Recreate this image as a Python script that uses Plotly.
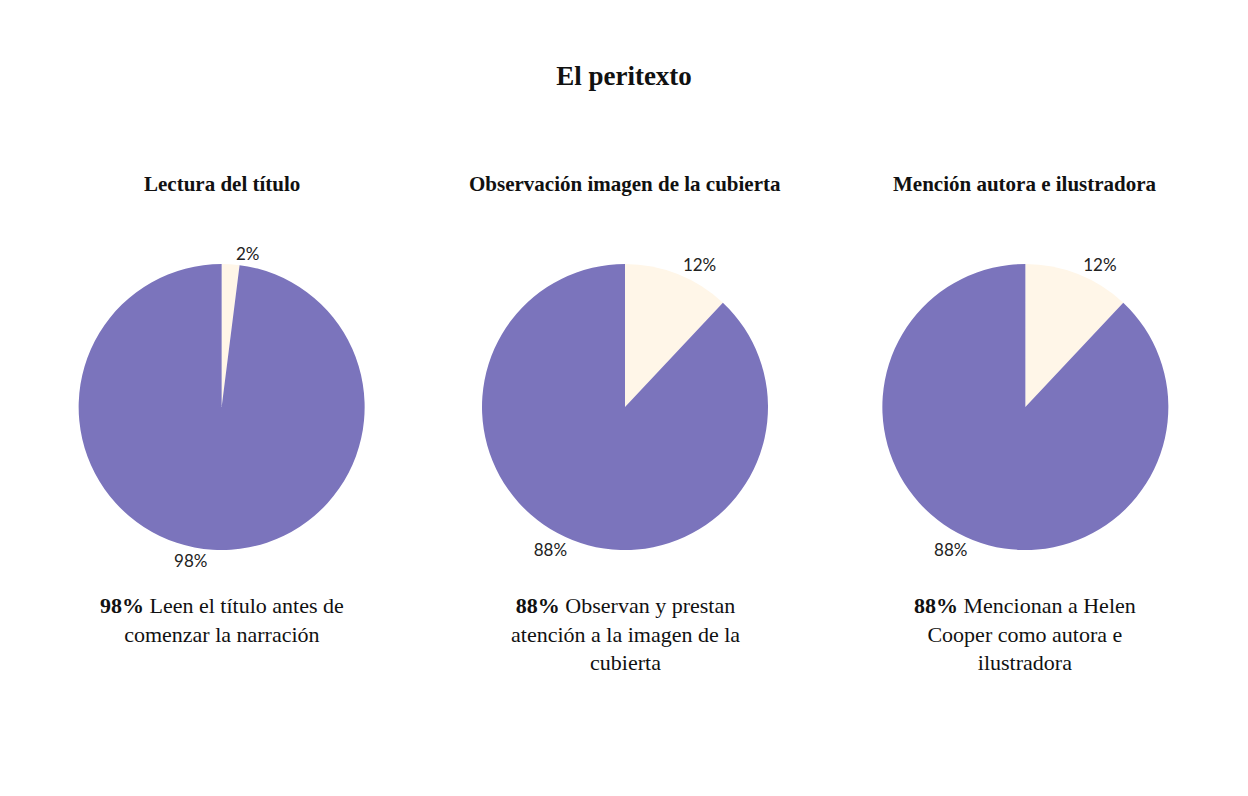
import plotly.graph_objects as go

W, H = 1248, 796

titles = ["Lectura del título", "Observación imagen de la cubierta", "Mención autora e ilustradora"]
small_vals = [2, 12, 12]
big_vals = [98, 88, 88]
seg_labels = ["No", "Sí"]
caption_pcts = ["98%", "88%", "88%"]
caption_texts = [
    "Leen el título antes de<br>comenzar la narración",
    "Observan y prestan<br>atención a la imagen de la<br>cubierta",
    "Mencionan a Helen<br>Cooper como autora e<br>ilustradora",
]
centers_x = [220, 624, 1025]
center_y = 407

PURPLE = "#7b74bc"
CREAM = "#fff6e8"
SERIF = "'Liberation Serif', 'Times New Roman', serif"
SANS = "Lato, Inter, sans-serif"

fig = go.Figure()
half_w = 180
half_h = 143
for i in range(3):
    cx = centers_x[i]
    fig.add_trace(go.Pie(
        labels=seg_labels,
        values=[small_vals[i], big_vals[i]],
        sort=False,
        direction="clockwise",
        rotation=0,
        marker=dict(colors=[CREAM, PURPLE], line=dict(width=0)),
        textinfo="percent",
        textposition="outside",
        texttemplate="%{percent:.0%}",
        textfont=dict(family=SANS, size=17, color="#222"),
        domain=dict(x=[(cx - half_w) / W, (cx + half_w) / W],
                    y=[1 - (center_y + half_h) / H, 1 - (center_y - half_h) / H]),
        showlegend=False,
        hoverinfo="label+percent",
    ))
    fig.add_annotation(text=f"<b>{titles[i]}</b>", x=cx / W, y=1 - 184 / H,
                       xref="paper", yref="paper", showarrow=False,
                       font=dict(family=SERIF, size=21, color="#111"),
                       xanchor="center", yanchor="middle")
    cap = (f"<span style='font-family:Liberation Serif;font-weight:bold'>{caption_pcts[i]}</span> "
           + caption_texts[i])
    fig.add_annotation(text=cap, x=cx / W, y=1 - 591 / H,
                       xref="paper", yref="paper", showarrow=False,
                       font=dict(family=SERIF, size=22, color="#111"),
                       xanchor="center", yanchor="top", align="center")

fig.update_layout(
    width=W, height=H,
    margin=dict(l=0, r=0, t=0, b=0),
    paper_bgcolor="white",
    plot_bgcolor="white",
    title=dict(text="<b>El peritexto</b>", x=0.5, xanchor="center", y=1 - 76 / H, yanchor="middle",
               font=dict(family=SERIF, size=27, color="#111")),
)

fig.write_html("out.html")
